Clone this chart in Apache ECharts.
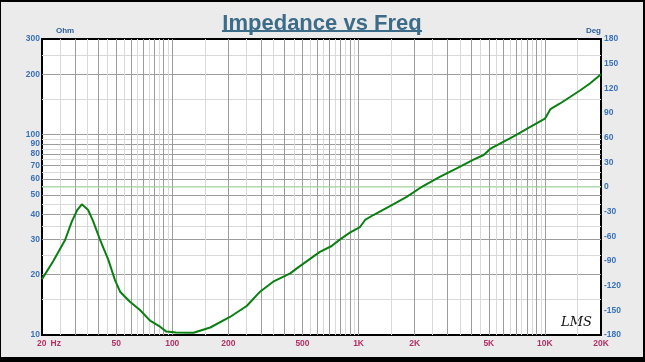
<!DOCTYPE html>
<html>
<head>
<meta charset="utf-8">
<script src="https://cdn.jsdelivr.net/npm/echarts@6/dist/echarts.min.js"></script>
<style>
html,body{margin:0;padding:0;background:#000;width:645px;height:362px;overflow:hidden;}
#c{position:absolute;left:1px;top:2px;width:642px;height:355px;background:#ebebeb;}
</style>
</head>
<body>
<div id="c"></div>
<script>
// ---- data ----
const freq = [20, 23, 26.6, 28.9, 30.9, 32.7, 35.4, 37.7, 41, 45.4, 49.3, 52.5, 59.3, 67.1, 76, 86, 93, 105, 130, 160, 204, 251, 296, 348, 430, 466, 620, 717, 796, 898, 1016, 1084, 1200, 1474, 1812, 2220, 2728, 3360, 4140, 4690, 5080, 5740, 6760, 8300, 10000, 10700, 12060, 13640, 15420, 17440, 20000];
const impedance = [19, 23.4, 29.8, 36.8, 42, 44.9, 42, 36.8, 29.8, 23.7, 18.8, 16.45, 14.66, 13.33, 11.8, 11.0, 10.4, 10.3, 10.27, 10.9, 12.3, 13.95, 16.45, 18.45, 20.3, 21.5, 26, 27.8, 30, 32.4, 34.5, 37.5, 39.7, 44, 48.9, 55.4, 61.6, 67.9, 75, 79.1, 84.8, 90.2, 97.6, 109, 120, 134, 143, 154, 166, 180, 200];
const phaseFreq = [20, 20000];
const phaseDeg = [0, 0];

const xTickLabels = [20, 50, 100, 200, 500, 1000, 2000, 5000, 10000, 20000];
const xMajorGrid = [30,40,50,60,70,80,90,100,200,300,400,500,600,700,800,900,1000,2000,3000,4000,5000,6000,7000,8000,9000,10000];
const xMinorGrid = [25,35,45,55,65,75,85,95,150,250,350,450,550,650,750,850,950,1500,2500,3500,4500,5500,6500,7500,8500,9500,15000];
const yTickLabels = [10,20,30,40,50,60,70,80,90,100,200,300];
const yMajorGrid = [20,30,40,50,60,70,80,90,100,200];
const yMinorGrid = [15,25,35,45,55,65,75,85,95,150,250];
const xRange = [20, 20000];
const yRange = [10, 300];
const degRange = [-180, 180];
const degStep = 30;

// ---- chart ----
const L = Math.log10;
const chart = echarts.init(document.getElementById('c'));
const labelFont = 'Liberation Sans, Arial, sans-serif';
const fmtF = v => {
  const f = Math.round(Math.pow(10, v));
  if (f === 20) return '{a|20}{b|Hz}';
  return f >= 1000 ? (f / 1000) + 'K' : String(f);
};
chart.setOption({
  animation: false,
  title: {
    text: 'Impedance vs Freq',
    left: 'center', top: 6,
    textStyle: {fontFamily: labelFont, fontSize: 22, fontWeight: 'bold', color: '#3d6c88'}
  },
  graphic: [
    {type: 'rect', shape: {x: 221, y: 28, width: 200, height: 2}, style: {fill: '#3d6c88'}},
    {type: 'text', left: 560, top: 314, style: {text: 'LMS', font: 'italic 13px "DejaVu Serif", serif', fill: '#111'}}
  ],
  grid: {left: 41, top: 37, width: 559, height: 296, show: true, backgroundColor: '#fff', borderColor: '#000', borderWidth: 2},
  xAxis: [
    {type: 'value', position: 'bottom', min: L(xRange[0]), max: L(xRange[1]),
     axisLine: {show: false}, axisLabel: {show: false},
     axisTick: {show: false, customValues: xMinorGrid.map(L)},
     splitLine: {show: true, lineStyle: {color: '#d9d9d9', width: 1}}},
    {type: 'value', position: 'bottom', min: L(xRange[0]), max: L(xRange[1]),
     axisLine: {show: false},
     axisTick: {show: false, customValues: xMajorGrid.map(L)},
     splitLine: {show: true, lineStyle: {color: '#9c9c9c', width: 1}},
     axisLabel: {customValues: xTickLabels.map(L), formatter: fmtF, margin: 4,
       color: '#b52f66', fontFamily: labelFont, fontSize: 8.5, fontWeight: 'bold',
       rich: {a: {color: '#b52f66', fontFamily: labelFont, fontSize: 8.5, fontWeight: 'bold', padding: [0, 4, 0, 14]},
              b: {color: '#b52f66', fontFamily: labelFont, fontSize: 8.5, fontWeight: 'bold'}}}}
  ],
  yAxis: [
    {type: 'value', position: 'left', min: L(yRange[0]), max: L(yRange[1]),
     axisLine: {show: false}, axisLabel: {show: false},
     axisTick: {show: false, customValues: yMinorGrid.map(L)},
     splitLine: {show: true, lineStyle: {color: '#d9d9d9', width: 1}}},
    {type: 'value', position: 'left', min: L(yRange[0]), max: L(yRange[1]),
     name: 'Ohm', nameLocation: 'end', nameGap: 4,
     nameTextStyle: {align: 'left', padding: [0, 0, 0, 14], color: '#2c5f9e', fontFamily: labelFont, fontSize: 8, fontWeight: 'bold'},
     axisLine: {show: false},
     axisTick: {show: false, customValues: yMajorGrid.map(L)},
     splitLine: {show: true, lineStyle: {color: '#9c9c9c', width: 1}},
     axisLabel: {customValues: yTickLabels.map(L), formatter: v => String(Math.round(Math.pow(10, v))), margin: 2,
       color: '#3a72b8', fontFamily: labelFont, fontSize: 8.5, fontWeight: 'bold'}},
    {type: 'value', position: 'right', min: degRange[0], max: degRange[1], interval: degStep,
     name: 'Deg', nameLocation: 'end', nameGap: 4,
     nameTextStyle: {align: 'right', color: '#2c5f9e', fontFamily: labelFont, fontSize: 8, fontWeight: 'bold'},
     axisLine: {show: false}, axisTick: {show: false}, splitLine: {show: false},
     axisLabel: {margin: 3, color: '#3a72b8', fontFamily: labelFont, fontSize: 8.5, fontWeight: 'bold'}}
  ],
  series: [
    {type: 'line', xAxisIndex: 1, yAxisIndex: 2, showSymbol: false, silent: true, z: 3,
     lineStyle: {color: '#98d898', width: 1},
     data: phaseFreq.map((f, i) => [L(f), phaseDeg[i]])},
    {type: 'line', xAxisIndex: 1, yAxisIndex: 1, showSymbol: false, silent: true, z: 5,
     lineStyle: {color: '#0b7f12', width: 2},
     data: freq.map((f, i) => [L(f), L(impedance[i])])}
  ]
});
</script>
</body>
</html>
